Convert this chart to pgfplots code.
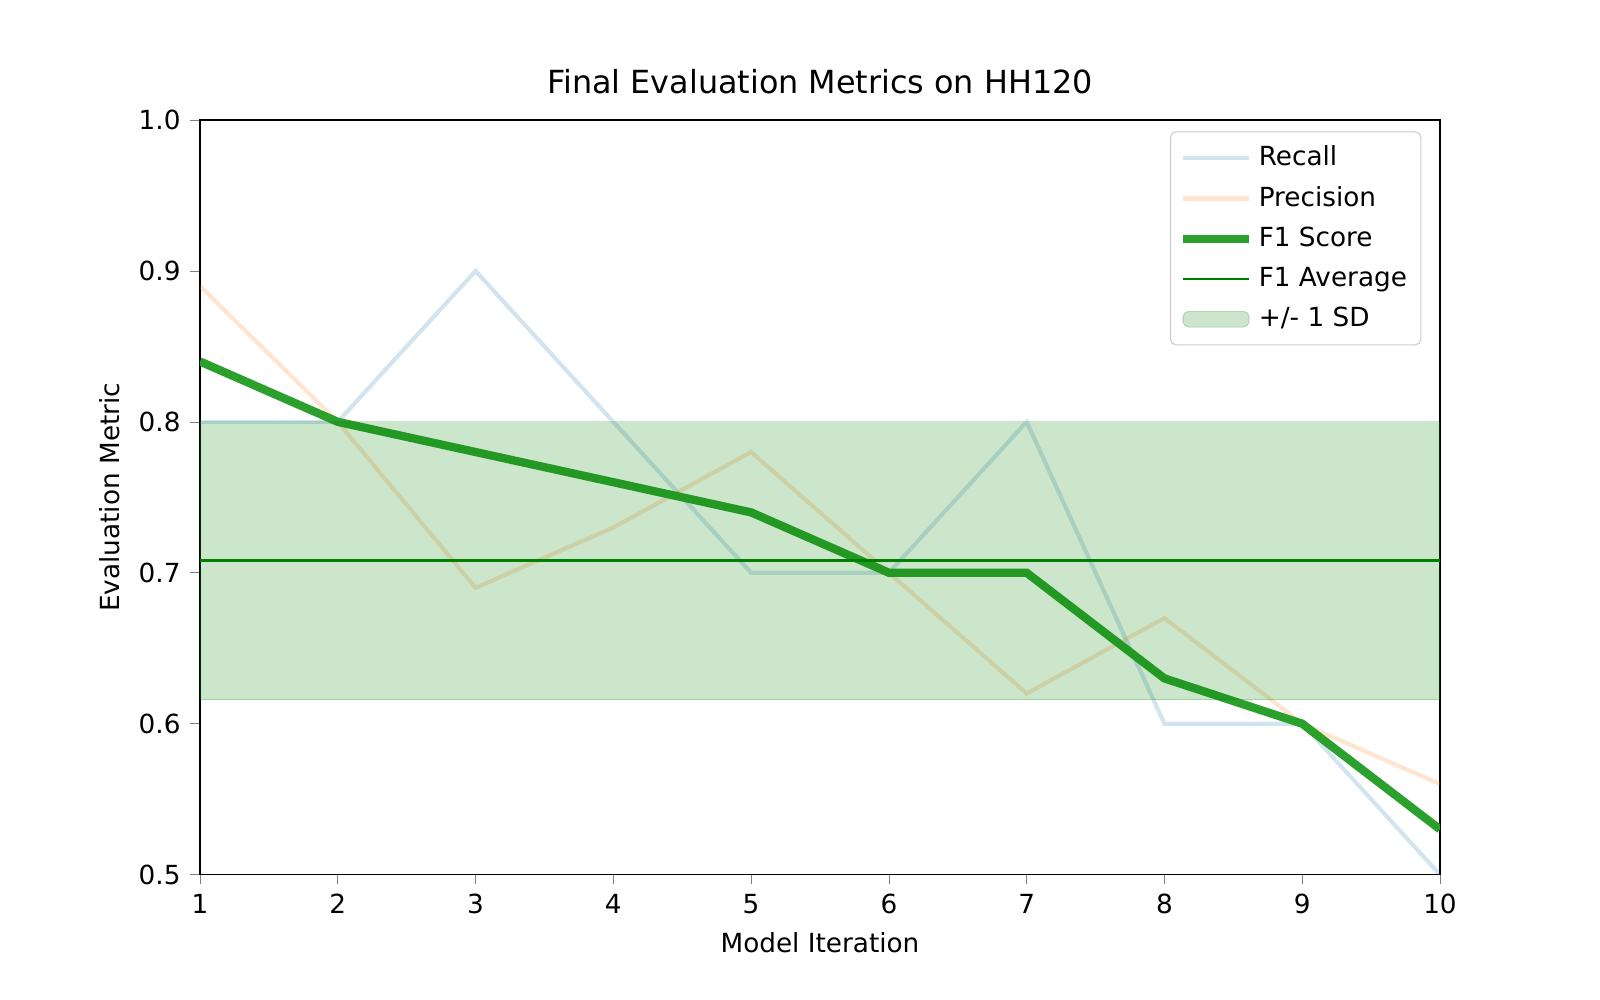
\documentclass[border=0pt]{standalone}
\usepackage{pgfplots}
\pgfplotsset{compat=1.18}
\usepackage{fontspec}
\setmainfont{DejaVu Sans}
\definecolor{tblue}{RGB}{31,119,180}
\definecolor{torange}{RGB}{255,127,14}
\definecolor{tgreen}{RGB}{44,160,44}
\definecolor{mgreen}{RGB}{0,128,0}
\begin{document}
\begin{tikzpicture}
\path[use as bounding box] (-1in,-0.627in) rectangle (7in,4.373in);
\begin{axis}[
  at={(0,0)}, anchor=south west,
  scale only axis, width=6.2in, height=3.773in,
  xmin=1, xmax=10, ymin=0.5, ymax=1.0,
  xtick={1,...,10}, ytick={0.5,0.6,0.7,0.8,0.9,1.0},
  yticklabel style={/pgf/number format/fixed,/pgf/number format/precision=1,/pgf/number format/fixed zerofill},
  /pgf/number format/assume math mode=true,
  tick label style={font=\fontsize{9.5}{11}\selectfont},
  label style={font=\fontsize{9.5}{11}\selectfont},
  tick align=outside, tick pos=left,
  major tick length=3.5pt,
  xlabel={Model Iteration}, ylabel={Evaluation Metric},
  title={Final Evaluation Metrics on HH120},
  title style={font=\fontsize{11.5}{13}\selectfont},
  legend style={at={(0.985,0.985)}, anchor=north east, font=\fontsize{9.5}{11}\selectfont,
    draw=black!20, rounded corners=2pt, row sep=2pt, inner sep=3pt},
  legend image post style={xscale=1.4},
  legend cell align=left,
  clip=true,
]
\addplot[tblue, opacity=0.2, line width=1.5pt] coordinates {(1,0.80)(2,0.80)(3,0.90)(4,0.80)(5,0.70)(6,0.70)(7,0.80)(8,0.60)(9,0.60)(10,0.50)};
\addlegendentry{Recall}
\addplot[torange, opacity=0.2, line width=1.5pt] coordinates {(1,0.89)(2,0.80)(3,0.69)(4,0.73)(5,0.78)(6,0.70)(7,0.62)(8,0.67)(9,0.60)(10,0.56)};
\addlegendentry{Precision}
\addplot[tgreen, line width=3pt] coordinates {(1,0.84)(2,0.80)(3,0.78)(4,0.76)(5,0.74)(6,0.70)(7,0.70)(8,0.63)(9,0.60)(10,0.53)};
\addlegendentry{F1 Score}
\addplot[mgreen, line width=1pt] coordinates {(1,0.708)(10,0.708)};
\addlegendentry{F1 Average}
\addplot[draw=mgreen, draw opacity=0.2, fill=mgreen, fill opacity=0.2, area legend] coordinates {(1,0.616)(10,0.616)(10,0.800)(1,0.800)} -- cycle;
\addlegendentry{+/- 1 SD}
\end{axis}
\end{tikzpicture}
\end{document}
